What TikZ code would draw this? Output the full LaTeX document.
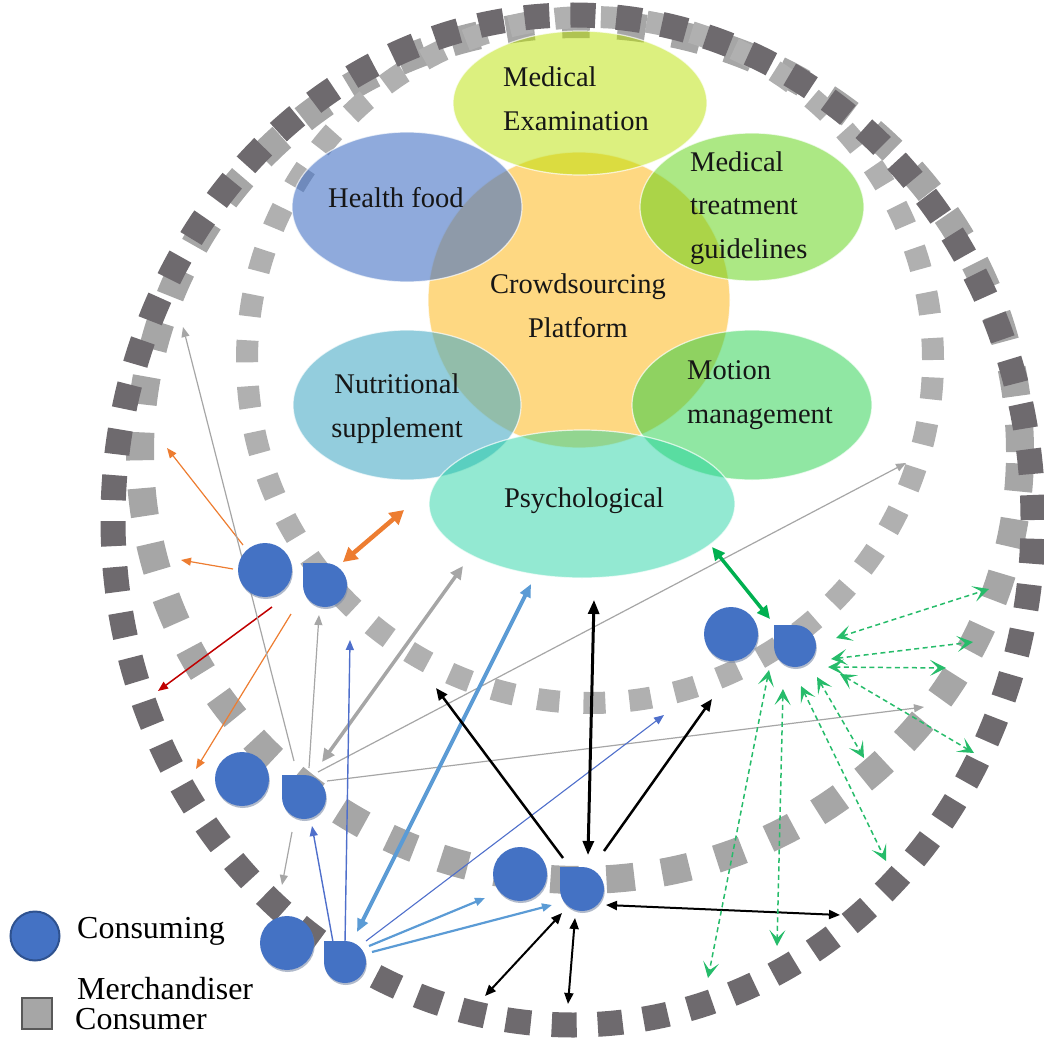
\documentclass[tikz,border=0pt]{standalone}
\usepackage{fontspec}
\setmainfont{Liberation Serif}
\usetikzlibrary{arrows.meta,calc,shapes.geometric,shadows}

% ring squares
\definecolor{ringdark}{HTML}{6E6A6E}
\definecolor{ringmid}{HTML}{A6A6A6}
\definecolor{ringin}{HTML}{B0B0B0}
% service bubbles (translucent over white)
\definecolor{platform}{HTML}{FED882}
\definecolor{examc}{RGB}{185,225,0}
\definecolor{foodc}{RGB}{68,114,196}
\definecolor{treatc}{RGB}{95,210,20}
\definecolor{nutric}{RGB}{75,172,198}
\definecolor{motionc}{RGB}{20,205,60}
\definecolor{psychc}{RGB}{30,210,160}
% actors
\definecolor{nodeblue}{HTML}{4472C4}
\definecolor{nodeshade}{HTML}{7D8CA8}
\definecolor{legendedge}{HTML}{2F528F}
\definecolor{legendgray}{HTML}{595959}
% connectors
\definecolor{arrorange}{HTML}{ED7D31}
\definecolor{arrred}{HTML}{C00000}
\definecolor{arrgray}{HTML}{A6A6A6}
\definecolor{arrblue}{HTML}{4F6FCB}
\definecolor{arrsky}{HTML}{5B9BD5}
\definecolor{arrgreen}{HTML}{00B050}
\definecolor{inkc}{HTML}{161616}

\newcommand\drawmerch[3]{% name, position, radius
  \node[merchbox, minimum size=2*#3 pt] (#1) at (#2) {};
  \fill[nodeblue, drop shadow={shadow xshift=0.8pt, shadow yshift=-2pt, fill=nodeshade, opacity=0.6}]
    ($(#1.center)+(-#3,#3)$) -- ++(#3,0) arc[start angle=90, end angle=-180, radius=#3] -- cycle;
}

\begin{document}
\begin{tikzpicture}[x=1pt,y=1pt,
  ringA/.style={draw=ringdark, line width=25pt, dash pattern=on 25pt off 21pt},
  ringB/.style={draw=ringmid, line width=28pt, dash pattern=on 28pt off 28pt},
  ringC/.style={draw=ringin, line width=22pt, dash pattern=on 22pt off 24pt},
  bubble/.style={ellipse, inner sep=0pt, draw=white, line width=1.2pt, draw opacity=0.7},
  label/.style={font=\fontsize{28.5}{43.5}\selectfont, text=inkc, inner sep=0pt},
  legendtext/.style={font=\fontsize{32}{32}\selectfont, text=black, inner sep=0pt, anchor=base west},
  consumer/.style={circle, inner sep=0pt, minimum size=54pt, fill=nodeblue,
    drop shadow={shadow xshift=0.8pt, shadow yshift=-2pt, fill=nodeshade, opacity=0.6}},
  merchbox/.style={circle, inner sep=0pt},
  thin/.style={line width=1.2pt, -{Triangle[length=10pt,width=8pt]}},
  greendash/.style={arrgreen!85!white, line width=1.5pt, dash pattern=on 5pt off 3.5pt,
    {Stealth[length=16pt,width=16pt,inset=8pt]}-{Stealth[length=16pt,width=16pt,inset=8pt]}},
  bothk/.style={line width=2pt, {Triangle[length=11pt,width=9pt]}-{Triangle[length=11pt,width=9pt]}}
]
\useasboundingbox (0,0) rectangle (1044,-1038);

% ---------- rings of square markers ----------
\draw[ringB] (580,-452) ellipse [x radius=440, y radius=428];
\draw[ringC] (590,-360) ellipse [x radius=343, y radius=343];
\draw[ringA] (573,-520) ellipse [x radius=460, y radius=505];

% ---------- service bubbles ----------
\node[bubble, fill=platform, minimum width=302pt, minimum height=296pt] (platform) at (579,-300) {};
\node[bubble, fill=examc, fill opacity=0.5, minimum width=254pt, minimum height=144pt] (exam) at (580,-103) {};
\node[bubble, fill=foodc, fill opacity=0.6, minimum width=230pt, minimum height=150pt] (food) at (407,-207) {};
\node[bubble, fill=treatc, fill opacity=0.52, minimum width=224pt, minimum height=148pt] (treat) at (752,-207) {};
\node[bubble, fill=nutric, fill opacity=0.6, minimum width=228pt, minimum height=150pt] (nutri) at (407,-405) {};
\node[bubble, fill=motionc, fill opacity=0.47, minimum width=240pt, minimum height=150pt] (motion) at (752,-405) {};
\node[bubble, fill=psychc, fill opacity=0.48, minimum width=306pt, minimum height=148pt] (psych) at (582,-504) {};

\node[label, anchor=north west, align=left] (t-exam) at (503,-67) {Medical\\Examination};
\node[label, anchor=base west] (t-food) at (328,-207) {Health food};
\node[label, anchor=north west, align=left] (t-treat) at (690,-151.5) {Medical\\treatment\\guidelines};
\node[label, anchor=north, align=center] (t-platform) at (578,-274) {Crowdsourcing\\Platform};
\node[label, anchor=north, align=center] (t-nutri) at (397,-374) {Nutritional\\supplement};
\node[label, anchor=north west, align=left] (t-motion) at (687,-360.5) {Motion\\management};
\node[label, anchor=base] (t-psych) at (584,-507) {Psychological};

% ---------- connector end points ----------
\coordinate (o1s) at (343,-562);  \coordinate (o1e) at (404,-510);
\coordinate (o2s) at (243,-545);  \coordinate (o2e) at (167,-448);
\coordinate (o3s) at (233,-569);  \coordinate (o3e) at (181,-560);
\coordinate (r1s) at (272,-607);  \coordinate (r1e) at (158,-691);
\coordinate (o4s) at (291,-614);  \coordinate (o4e) at (196,-769);
\coordinate (g1s) at (294,-761);  \coordinate (g1e) at (183,-327);
\coordinate (g2s) at (309,-768);  \coordinate (g2e) at (319,-615);
\coordinate (g3s) at (322,-762);  \coordinate (g3e) at (463,-566);
\coordinate (g4s) at (318,-772);  \coordinate (g4e) at (906,-463);
\coordinate (g5s) at (327,-781);  \coordinate (g5e) at (924,-707);
\coordinate (g6s) at (292,-832);  \coordinate (g6e) at (282,-885);
\coordinate (b1s) at (345,-943);  \coordinate (b1e) at (350,-640);
\coordinate (b2s) at (333,-942);  \coordinate (b2e) at (312,-826);
\coordinate (b3s) at (357,-932);  \coordinate (b3e) at (531,-584);
\coordinate (b4s) at (366,-941);  \coordinate (b4e) at (664,-715);
\coordinate (b5s) at (369,-946);  \coordinate (b5e) at (485,-898);
\coordinate (b6s) at (372,-952);  \coordinate (b6e) at (552,-905);
\coordinate (k1s) at (588,-855);  \coordinate (k1e) at (594,-600);
\coordinate (k2s) at (563,-858);  \coordinate (k2e) at (436,-688);
\coordinate (k3s) at (604,-851);  \coordinate (k3e) at (712,-699);
\coordinate (k4s) at (606,-905);  \coordinate (k4e) at (840,-915);
\coordinate (k5s) at (575,-918);  \coordinate (k5e) at (568,-1004);
\coordinate (k6s) at (562,-913);  \coordinate (k6e) at (485,-996);
\coordinate (v0s) at (770,-619);  \coordinate (v0e) at (712,-547);
\coordinate (v1s) at (836,-638);  \coordinate (v1e) at (989,-589);
\coordinate (v2s) at (831,-659);  \coordinate (v2e) at (973,-642);
\coordinate (v3s) at (828,-667);  \coordinate (v3e) at (946,-668);
\coordinate (v4s) at (817,-677);  \coordinate (v4e) at (864,-758);
\coordinate (v5s) at (840,-674);  \coordinate (v5e) at (974,-753);
\coordinate (v6s) at (801,-686);  \coordinate (v6e) at (886,-861);
\coordinate (v7s) at (783,-689);  \coordinate (v7e) at (777,-946);
\coordinate (v8s) at (769,-670);  \coordinate (v8e) at (708,-978);

% ---------- connectors ----------
% orange / red group
\draw[arrorange, line width=4.5pt, {Triangle[length=14pt,width=15pt]}-{Triangle[length=14pt,width=15pt]}] (o1s) -- (o1e);
\draw[thin, arrorange] (o2s) -- (o2e);
\draw[thin, arrorange] (o3s) -- (o3e);
\draw[thin, arrred, line width=1.5pt] (r1s) -- (r1e);
\draw[thin, arrorange] (o4s) -- (o4e);
% gray group
\draw[thin, arrgray] (g1s) -- (g1e);
\draw[thin, arrgray] (g2s) -- (g2e);
\draw[arrgray, line width=3.5pt, {Triangle[length=13pt,width=12pt]}-{Triangle[length=13pt,width=12pt]}] (g3s) -- (g3e);
\draw[thin, arrgray] (g4s) -- (g4e);
\draw[thin, arrgray] (g5s) -- (g5e);
\draw[thin, arrgray] (g6s) -- (g6e);
% blue group
\draw[thin, arrblue, line width=1.4pt] (b1s) -- (b1e);
\draw[thin, arrblue, line width=1.4pt] (b2s) -- (b2e);
\draw[arrsky, line width=4pt, {Triangle[length=13pt,width=11pt]}-{Triangle[length=13pt,width=11pt]}] (b3s) -- (b3e);
\draw[thin, arrblue, line width=1.1pt] (b4s) -- (b4e);
\draw[thin, arrsky, line width=2.2pt] (b5s) -- (b5e);
\draw[thin, arrsky, line width=2.2pt] (b6s) -- (b6e);
% black group
\draw[black, line width=3pt, {Triangle[length=14pt,width=11pt]}-{Triangle[length=14pt,width=11pt]}] (k1s) -- (k1e);
\draw[black, line width=2.5pt, -{Triangle[length=12pt,width=10pt]}] (k2s) -- (k2e);
\draw[black, line width=2.5pt, -{Triangle[length=12pt,width=10pt]}] (k3s) -- (k3e);
\draw[bothk] (k4s) -- (k4e);
\draw[bothk] (k5s) -- (k5e);
\draw[bothk] (k6s) -- (k6e);
% green group
\draw[arrgreen, line width=3.5pt, {Triangle[length=13pt,width=12pt]}-{Triangle[length=13pt,width=12pt]}] (v0s) -- (v0e);
\draw[greendash] (v1s) -- (v1e);
\draw[greendash] (v2s) -- (v2e);
\draw[greendash] (v3s) -- (v3e);
\draw[greendash] (v4s) -- (v4e);
\draw[greendash] (v5s) -- (v5e);
\draw[greendash] (v6s) -- (v6e);
\draw[greendash] (v7s) -- (v7e);
\draw[greendash] (v8s) -- (v8e);

% ---------- consumers and merchandisers ----------
\node[consumer] (c1) at (265,-570) {};
\drawmerch{d1}{325,-585}{22}
\node[consumer] (c2) at (242,-779) {};
\drawmerch{d2}{304,-797}{22}
\node[consumer] (c3) at (287,-943) {};
\drawmerch{d3}{345,-962}{21}
\node[consumer] (c4) at (520,-874) {};
\drawmerch{d4}{582,-889}{22}
\node[consumer] (c5) at (731,-634) {};
\drawmerch{d5}{795,-646}{21}

% ---------- legend ----------
\node[circle, inner sep=0pt, minimum size=49pt, fill=nodeblue, draw=legendedge, line width=2pt] (lg-circle) at (35,-936) {};
\node[legendtext] (lg-consuming) at (77,-938) {Consuming};
\node[rectangle, inner sep=0pt, minimum width=30pt, minimum height=31pt, fill=ringmid, draw=legendgray, line width=2pt] (lg-square) at (36.5,-1013) {};
\node[legendtext] (lg-merch) at (77,-999) {Merchandiser};
\node[legendtext] (lg-consumer) at (75,-1029) {Consumer};
\end{tikzpicture}
\end{document}
